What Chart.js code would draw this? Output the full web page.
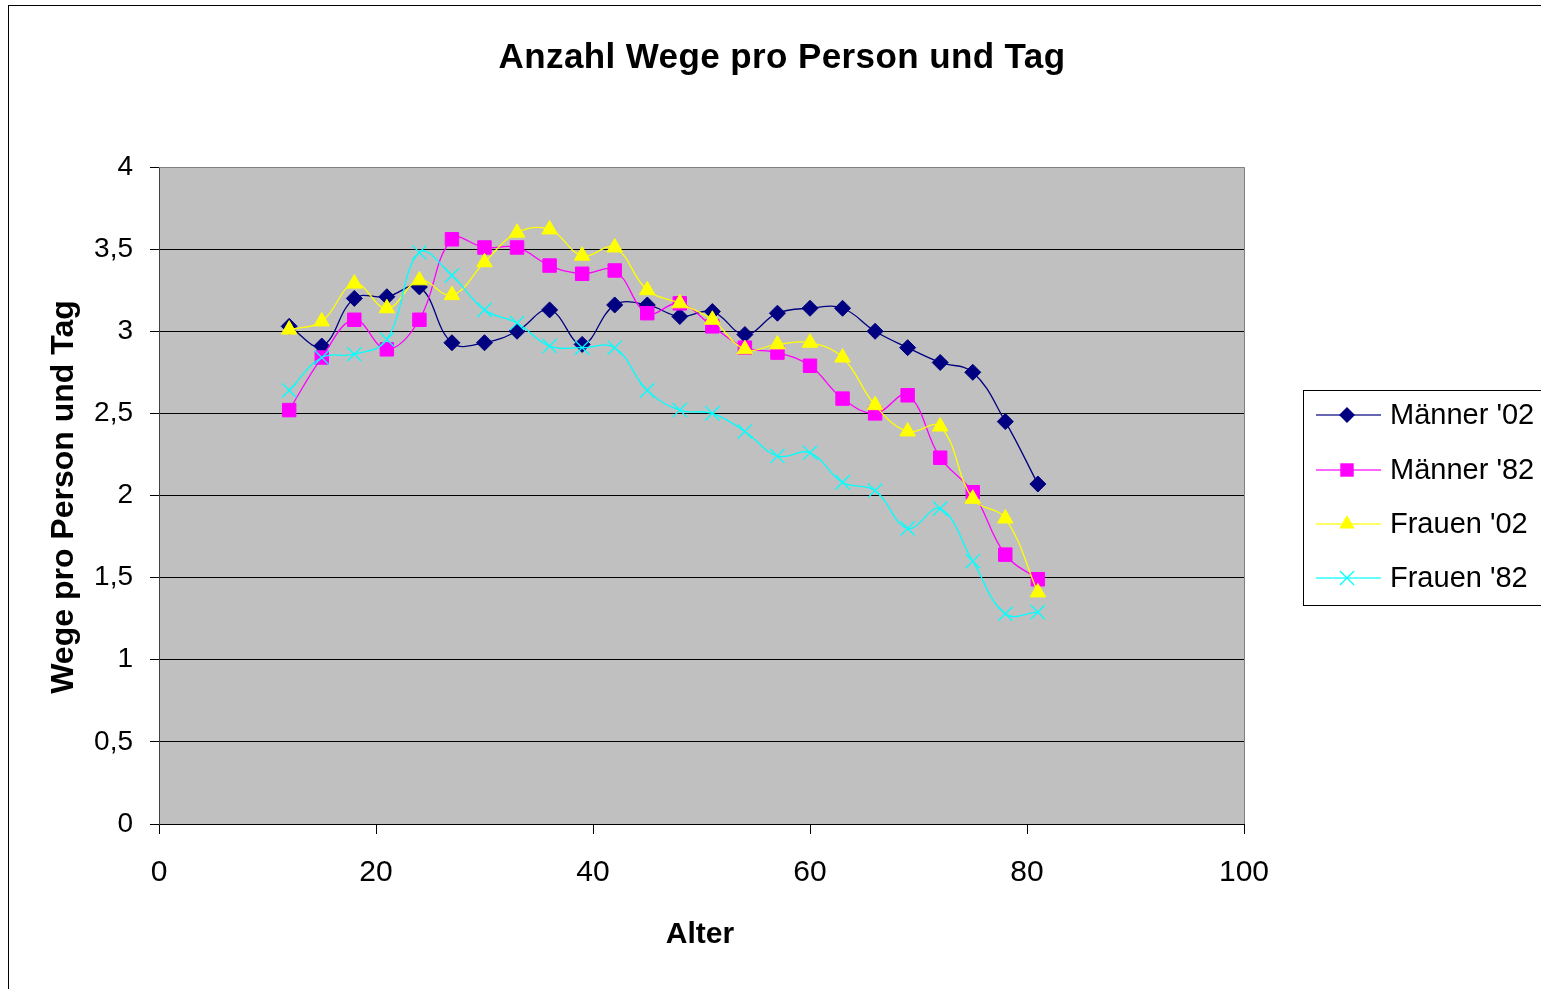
<!DOCTYPE html>
<html>
<head>
<meta charset="utf-8">
<script src="https://cdn.jsdelivr.net/npm/chart.js@4/dist/chart.umd.min.js"></script>
<style>
  html, body { margin: 0; padding: 0; background: #ffffff; }
  #wrap { position: relative; width: 1541px; height: 989px; }
</style>
</head>
<body>
<div id="wrap"><canvas id="c" width="1541" height="989"></canvas></div>
<script>
const ages = [12, 15, 18, 21, 24, 27, 30, 33, 36, 39, 42, 45, 48, 51, 54, 57, 60, 63, 66, 69, 72, 75, 78, 81];
const maenner02 = [3.03, 2.91, 3.20, 3.21, 3.27, 2.93, 2.93, 3.00, 3.13, 2.92, 3.16, 3.16, 3.09, 3.12, 2.98, 3.11, 3.14, 3.14, 3.00, 2.90, 2.81, 2.75, 2.45, 2.07];
const maenner82 = [2.52, 2.84, 3.07, 2.89, 3.07, 3.56, 3.51, 3.51, 3.40, 3.35, 3.37, 3.11, 3.17, 3.03, 2.90, 2.87, 2.79, 2.59, 2.50, 2.61, 2.23, 2.02, 1.64, 1.49];
const frauen02 = [3.01, 3.06, 3.29, 3.14, 3.31, 3.22, 3.42, 3.60, 3.62, 3.46, 3.51, 3.25, 3.17, 3.07, 2.89, 2.92, 2.93, 2.84, 2.55, 2.39, 2.42, 1.98, 1.86, 1.41];
const frauen82 = [2.64, 2.84, 2.86, 2.95, 3.48, 3.34, 3.13, 3.05, 2.91, 2.90, 2.90, 2.64, 2.52, 2.50, 2.39, 2.24, 2.26, 2.08, 2.03, 1.80, 1.92, 1.60, 1.28, 1.29];
const seriesNames = ["Männer '02", "Männer '82", "Frauen '02", "Frauen '82"];
const seriesColors = ["#000080", "#FF00FF", "#FFFF00", "#00FFFF"];
const seriesStyles = ["rectRot", "rect", "triangle", "crossRot"];
const seriesRadius = [8, 9.5, 9, 10];
const titleText = "Anzahl Wege pro Person und Tag";
const xTitleText = "Alter";
const yTitleText = "Wege pro Person und Tag";

const FONT = "'Liberation Sans', Arial, sans-serif";
const allSeries = [maenner02, maenner82, frauen02, frauen82];

const datasets = allSeries.map((vals, i) => ({
  label: seriesNames[i],
  data: ages.map((a, j) => ({ x: a, y: vals[j] })),
  borderColor: seriesColors[i],
  backgroundColor: seriesColors[i],
  borderWidth: 1.3,
  tension: 0.4,
  pointStyle: seriesStyles[i],
  pointRadius: seriesRadius[i],
  pointHoverRadius: seriesRadius[i],
  pointBorderWidth: seriesStyles[i] === 'crossRot' ? 1.3 : 1,
  pointBorderColor: seriesColors[i],
  pointBackgroundColor: seriesColors[i],
  order: 4 - i,
  fill: false
}));

const bgPlugin = {
  id: 'plotBg',
  beforeDraw(chart) {
    const { ctx, chartArea: a } = chart;
    ctx.save();
    ctx.fillStyle = '#ffffff';
    ctx.fillRect(0, 0, chart.width, chart.height);
    ctx.fillStyle = '#C0C0C0';
    ctx.fillRect(a.left, a.top, a.right - a.left, a.bottom - a.top);
    ctx.strokeStyle = '#000000';
    ctx.lineWidth = 1;
    ctx.strokeRect(8.5, 5.5, 1600, 1100);
    ctx.restore();
  },
  afterDatasetsDraw(chart) {
    const { ctx, chartArea: a } = chart;
    ctx.save();
    ctx.strokeStyle = '#808080';
    ctx.lineWidth = 1;
    ctx.beginPath();
    ctx.moveTo(a.left, a.top + 0.5);
    ctx.lineTo(a.right + 0.5, a.top + 0.5);
    ctx.lineTo(a.right + 0.5, a.bottom);
    ctx.stroke();
    ctx.restore();
  }
};

function drawMarker(ctx, style, x, y, r, color) {
  ctx.save();
  ctx.fillStyle = color;
  ctx.strokeStyle = color;
  ctx.lineWidth = 1.3;
  ctx.beginPath();
  if (style === 'rectRot') {
    ctx.moveTo(x, y - r); ctx.lineTo(x + r, y); ctx.lineTo(x, y + r); ctx.lineTo(x - r, y); ctx.closePath();
    ctx.fill();
  } else if (style === 'rect') {
    const s = r * Math.SQRT1_2;
    ctx.rect(x - s, y - s, 2 * s, 2 * s); ctx.fill();
  } else if (style === 'triangle') {
    const a1 = -Math.PI / 2;
    for (let k = 0; k < 3; k++) {
      const ang = a1 + k * 2 * Math.PI / 3;
      const px = x + Math.cos(ang) * r, py = y + Math.sin(ang) * r;
      if (k === 0) ctx.moveTo(px, py); else ctx.lineTo(px, py);
    }
    ctx.closePath(); ctx.fill();
  } else {
    const d = r * Math.SQRT1_2;
    ctx.moveTo(x - d, y - d); ctx.lineTo(x + d, y + d);
    ctx.moveTo(x + d, y - d); ctx.lineTo(x - d, y + d);
    ctx.stroke();
  }
  ctx.restore();
}

const textPlugin = {
  id: 'texts',
  afterDraw(chart) {
    const ctx = chart.ctx;
    ctx.save();
    ctx.fillStyle = '#000000';
    ctx.font = 'bold 35px ' + FONT;
    ctx.textAlign = 'center';
    ctx.textBaseline = 'alphabetic';
    try { ctx.letterSpacing = '0.4px'; } catch (e) {}
    ctx.fillText(titleText, 782, 68);
    try { ctx.letterSpacing = '0px'; } catch (e) {}
    ctx.font = 'bold 30px ' + FONT;
    ctx.fillText(xTitleText, 700, 943);
    ctx.save();
    ctx.translate(73, 497);
    ctx.rotate(-Math.PI / 2);
    ctx.font = 'bold 32px ' + FONT;
    ctx.fillText(yTitleText, 0, 0);
    ctx.restore();

    ctx.strokeStyle = '#000000';
    ctx.lineWidth = 1;
    ctx.fillStyle = '#ffffff';
    ctx.fillRect(1303.5, 390.5, 300, 215);
    ctx.strokeRect(1303.5, 390.5, 300, 215);
    const ys = [415, 470, 524, 578];
    ctx.font = '29px ' + FONT;
    ctx.textAlign = 'left';
    ctx.textBaseline = 'middle';
    chart.data.datasets.forEach((ds, i) => {
      const y = ys[i];
      ctx.save();
      ctx.globalAlpha = 0.6;
      ctx.strokeStyle = ds.borderColor;
      ctx.lineWidth = 2;
      ctx.beginPath();
      ctx.moveTo(1316, y); ctx.lineTo(1381, y);
      ctx.stroke();
      ctx.restore();
      drawMarker(ctx, ds.pointStyle, 1347, y, ds.pointRadius, ds.borderColor);
      ctx.fillStyle = '#000000';
      ctx.fillText(ds.label, 1390, y + 1);
    });
    ctx.restore();
  }
};

new Chart(document.getElementById('c'), {
  type: 'line',
  data: { datasets },
  options: {
    responsive: false,
    animation: false,
    events: [],
    layout: { padding: { top: 167, right: 297, left: 0, bottom: 0 } },
    plugins: {
      legend: { display: false },
      title: { display: false },
      tooltip: { enabled: false }
    },
    scales: {
      x: {
        type: 'linear',
        min: 0, max: 100,
        afterFit(scale) { scale.height = 165; },
        ticks: {
          stepSize: 20,
          color: '#000000',
          padding: 21,
          maxRotation: 0,
          font: { family: FONT, size: 30 }
        },
        grid: {
          drawOnChartArea: false,
          drawTicks: true,
          tickLength: 10,
          tickColor: '#000000',
          tickWidth: 1
        },
        border: { color: '#000000', width: 1 }
      },
      y: {
        type: 'linear',
        min: 0, max: 4,
        afterFit(scale) { scale.width = 159; },
        ticks: {
          stepSize: 0.5,
          color: '#000000',
          padding: 17,
          font: { family: FONT, size: 28 },
          callback: (v) => String(v).replace('.', ',')
        },
        grid: {
          color: (c) => (c.tick && c.tick.value === 4 ? '#808080' : '#000000'),
          lineWidth: 1,
          drawTicks: true,
          tickLength: 9,
          tickColor: '#000000'
        },
        border: { color: '#404040', width: 1 }
      }
    }
  },
  plugins: [bgPlugin, textPlugin]
});
</script>
</body>
</html>
